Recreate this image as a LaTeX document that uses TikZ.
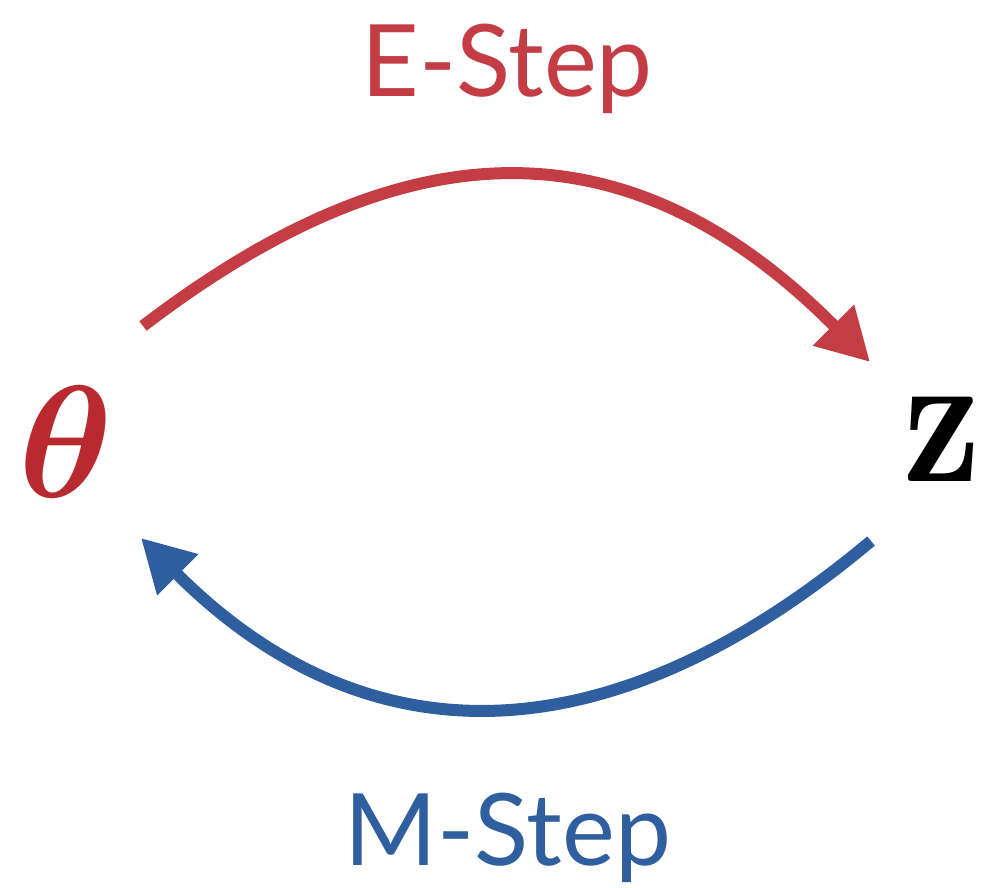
\documentclass[tikz,border=0pt]{standalone}
\usepackage{amsmath,bm}
\usepackage[no-math]{fontspec}
\setmainfont{Lato}
\usetikzlibrary{arrows.meta}
\definecolor{estep}{HTML}{C43C44}
\definecolor{theta}{HTML}{B82A30}
\definecolor{mstep}{HTML}{2F5F9F}
\tikzset{
  steplabel/.style={anchor=base, inner sep=0pt, font=\fontsize{100}{110}\selectfont},
  cyclearrow/.style={line width=12pt, -{Triangle[length=52pt,width=55pt]}},
}
\begin{document}
\begin{tikzpicture}[x=1pt,y=-1pt]
  \useasboundingbox (0,0) rectangle (988,888);
  % variables (10pt math glyphs, scaled up)
  \node[anchor=base, inner sep=0pt, text=theta] (th) at (66,497)
    {\fontsize{10}{12}\selectfont\scalebox{16}{$\bm{\theta}$}};
  \node[anchor=base, inner sep=0pt] (z) at (942,481)
    {\fontsize{10}{12}\selectfont\scalebox{15.2}[19]{$\mathbf{z}$}};
  % step labels
  \node[steplabel, text=estep] (e) at (507,97) {E-Step};
  \node[steplabel, text=mstep] (m) at (508,865) {M-Step};
  % arc end points
  \coordinate (es) at (143,326);
  \coordinate (ee) at (870,362);
  \coordinate (ms) at (871,541);
  \coordinate (me) at (141,538);
  \draw[cyclearrow, estep] (es) .. controls (380,145) and (610,100) .. (ee);
  \draw[cyclearrow, mstep] (ms) .. controls (621,751) and (375,772) .. (me);
\end{tikzpicture}
\end{document}
